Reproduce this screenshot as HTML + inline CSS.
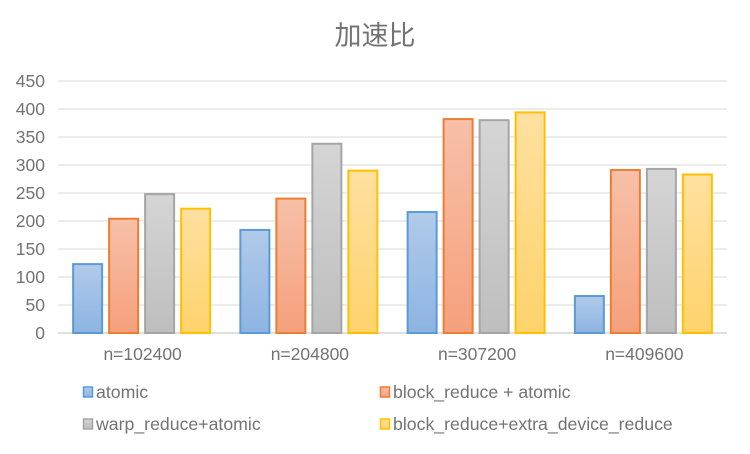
<!DOCTYPE html>
<html><head><meta charset="utf-8">
<style>
body{margin:0;background:#fff;}
svg text{font-family:"Liberation Sans","Noto Sans CJK SC",sans-serif;fill:#737373;}
</style></head>
<body>
<svg id="chart" width="750" height="449" xmlns="http://www.w3.org/2000/svg">
<defs>
<linearGradient id="g0" x1="0" y1="0" x2="0" y2="1"><stop offset="0" stop-color="#b1cae9"/><stop offset="1" stop-color="#8db4e2"/></linearGradient>
<linearGradient id="g1" x1="0" y1="0" x2="0" y2="1"><stop offset="0" stop-color="#f7c0a9"/><stop offset="1" stop-color="#f5a07c"/></linearGradient>
<linearGradient id="g2" x1="0" y1="0" x2="0" y2="1"><stop offset="0" stop-color="#d5d5d5"/><stop offset="1" stop-color="#bebebe"/></linearGradient>
<linearGradient id="g3" x1="0" y1="0" x2="0" y2="1"><stop offset="0" stop-color="#ffe0a0"/><stop offset="1" stop-color="#fed36c"/></linearGradient>
</defs>
<text x="375" y="45" font-size="27" text-anchor="middle">加速比</text>
<g id="grid"></g><g id="bars"></g><g id="legend"></g>
</svg>
<script>
const categories=["n=102400","n=204800","n=307200","n=409600"];
const seriesNames=["atomic","block_reduce + atomic","warp_reduce+atomic","block_reduce+extra_device_reduce"];
const atomic=[123,184,216,66];
const blockReduce=[204,240,382,291];
const warpReduce=[248,338,380,293];
const extraReduce=[222,290,394,283];
const yTicks=[0,50,100,150,200,250,300,350,400,450];
const series=[atomic,blockReduce,warpReduce,extraReduce];
const strokes=["#5b9bd5","#ed7d31","#a5a5a5","#ffc000"];
const NS="http://www.w3.org/2000/svg";
const L=58,R=727,Y0=333,Ytop=81;
const y=v=>Y0-(v/450)*(Y0-Ytop);
const gw=(R-L)/categories.length;
function mk(t,a,p){const e=document.createElementNS(NS,t);for(const k in a)e.setAttribute(k,a[k]);p.appendChild(e);return e;}
const grid=document.getElementById('grid');
yTicks.forEach(t=>{
 const ln=mk('line',{x1:L,x2:R,y1:y(t),y2:y(t),stroke:t===0?'#bfbfbf':'#d9d9d9','stroke-width':1},grid);
 
 
 const tx=mk('text',{x:45,y:y(t)+6,'font-size':17.5,'text-anchor':'end'},grid);tx.textContent=t;
 
 
});
const bars=document.getElementById('bars');
const bw=29,gap=7;
categories.forEach((c,i)=>{
 const start=L+gw*i+(gw-(4*bw+3*gap))/2;
 series.forEach((s,j)=>{
  const x=start+j*(bw+gap);
  const r=mk('rect',{x:x,y:y(s[i]),width:bw,height:Y0-y(s[i]),fill:'url(#g'+j+')',stroke:strokes[j],'stroke-width':2},bars);
  
  
 });
 const tx=mk('text',{x:L+gw*i+gw/2+1,y:360,'font-size':17.5,'text-anchor':'middle'},bars);tx.textContent=c;
 
 
});
const leg=document.getElementById('legend');
const lpos=[[83,392],[380,392],[83,424],[380,424]];
seriesNames.forEach((n,j)=>{
 const g=mk('g',{},leg);
 
 
 mk('rect',{x:lpos[j][0]+0.5,y:lpos[j][1]-5,width:9,height:10,fill:'url(#g'+j+')',stroke:strokes[j],'stroke-width':1.5},g);
 const t=mk('text',{x:lpos[j][0]+13,y:lpos[j][1]+6,'font-size':17.7},g);t.textContent=n;
});
</script>
</body></html>
